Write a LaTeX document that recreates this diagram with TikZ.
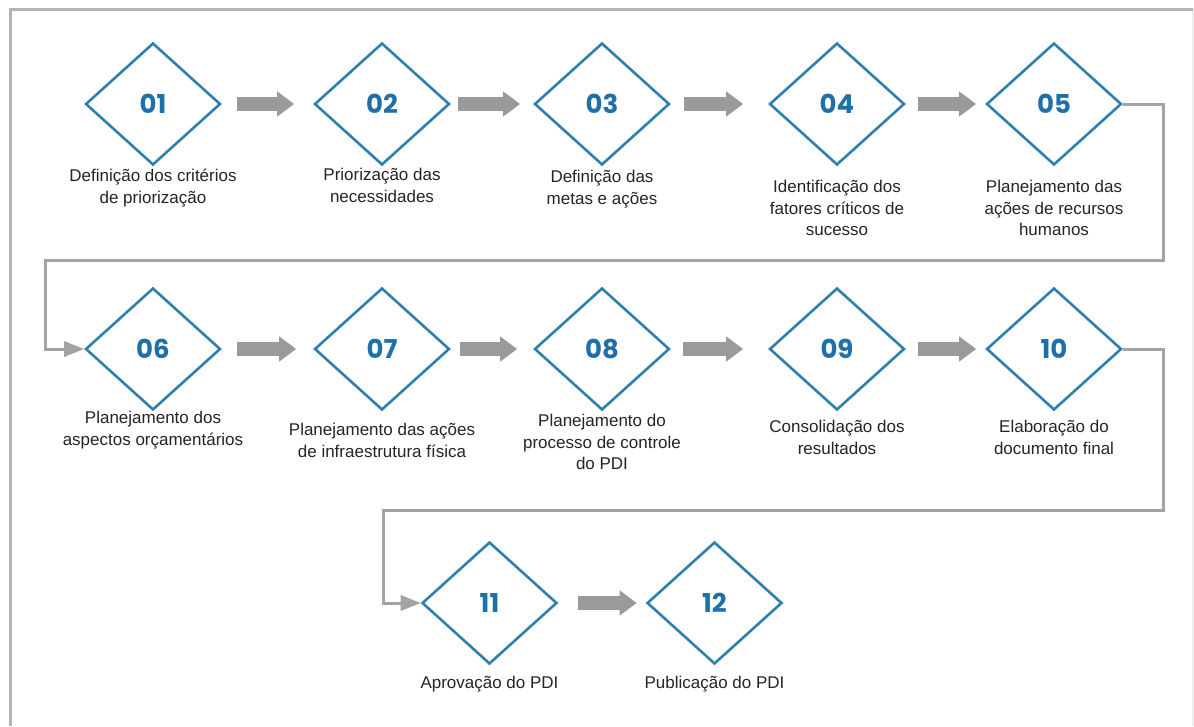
\documentclass[tikz,border=0pt]{standalone}
\usepackage{fontspec}
\setmainfont{Liberation Sans}
\newfontfamily\numfont{Poppins}
\usetikzlibrary{shapes.geometric,arrows.meta}
\definecolor{framegray}{HTML}{B4B4B4}
\definecolor{framefaint}{HTML}{EEEEEE}
\definecolor{flowgray}{HTML}{9A9A9A}
\definecolor{linkgray}{HTML}{A3A3A3}
\definecolor{stepblue}{HTML}{2F80AE}
\definecolor{numblue}{HTML}{1F70A8}
\definecolor{labeltext}{HTML}{252525}
\begin{document}
\begin{tikzpicture}[x=1pt,y=-1pt,
  stepdiamond/.style={diamond, draw=stepblue, line width=2.6pt,
    minimum width=135pt, minimum height=122pt, inner sep=0pt,
    font=\numfont\bfseries\fontsize{26}{26}\selectfont, text=numblue},
  steplabel/.style={anchor=north, align=center, inner sep=0pt,
    font=\fontsize{17}{21.5}\selectfont, text=labeltext},
  flowarrow/.style={draw=flowgray, line width=14pt,
    -{Triangle[length=17pt,width=24pt]}},
  linkarrow/.style={draw=linkgray, line width=3pt,
    -{Triangle[length=20pt,width=15pt]}}
]
\useasboundingbox[fill=white] (0,0) rectangle (1194,726);

% frame
\draw[framefaint, line width=1.5pt] (1193,9) -- (1193,726);
\draw[framegray, line width=3pt] (10,726) -- (10,9) -- (1193,9);

% row 1
\node[stepdiamond] (d1) at (153,104) {01};
\node[stepdiamond] (d2) at (382,104) {02};
\node[stepdiamond] (d3) at (602,104) {03};
\node[stepdiamond] (d4) at (837,104) {04};
\node[stepdiamond] (d5) at (1054,104) {05};
% row 2
\node[stepdiamond] (d6) at (153,349) {06};
\node[stepdiamond] (d7) at (382,349) {07};
\node[stepdiamond] (d8) at (602,349) {08};
\node[stepdiamond] (d9) at (837,349) {09};
\node[stepdiamond] (d10) at (1054,349) {10};
% row 3
\node[stepdiamond] (d11) at (489.5,603) {11};
\node[stepdiamond] (d12) at (714.5,603) {12};

% labels
\node[steplabel] (t1) at (153,169) {Definição dos critérios\\de priorização};
\node[steplabel] (t2) at (382,168) {Priorização das\\necessidades};
\node[steplabel] (t3) at (602,170) {Definição das\\metas e ações};
\node[steplabel] (t4) at (837,180) {Identificação dos\\fatores críticos de\\sucesso};
\node[steplabel] (t5) at (1054,180) {Planejamento das\\ações de recursos\\humanos};
\node[steplabel] (t6) at (153,411) {Planejamento dos\\aspectos orçamentários};
\node[steplabel] (t7) at (382,423) {Planejamento das ações\\de infraestrutura física};
\node[steplabel] (t8) at (602,414) {Planejamento do\\processo de controle\\do PDI};
\node[steplabel] (t9) at (837,420) {Consolidação dos\\resultados};
\node[steplabel] (t10) at (1054,420) {Elaboração do\\documento final};
\node[steplabel] (t11) at (489.5,676) {Aprovação do PDI};
\node[steplabel] (t12) at (714.5,676) {Publicação do PDI};

% block arrows between steps
\draw[flowarrow, shorten <=15pt, shorten >=19pt] (d1.east) -- (d2.west);
\draw[flowarrow, shorten <=7pt, shorten >=13pt] (d2.east) -- (d3.west);
\draw[flowarrow, shorten <=13pt, shorten >=25pt] (d3.east) -- (d4.west);
\draw[flowarrow, shorten <=12pt, shorten >=9pt] (d4.east) -- (d5.west);
\draw[flowarrow, shorten <=15pt, shorten >=17pt] (d6.east) -- (d7.west);
\draw[flowarrow, shorten <=9pt, shorten >=16pt] (d7.east) -- (d8.west);
\draw[flowarrow, shorten <=12pt, shorten >=25pt] (d8.east) -- (d9.west);
\draw[flowarrow, shorten <=12pt, shorten >=9pt] (d9.east) -- (d10.west);
\draw[flowarrow, shorten <=20pt, shorten >=9pt] (d11.east) -- (d12.west);

% row wrap connectors
\coordinate (w1r) at (1163,260);
\coordinate (w1l) at (45,260);
\coordinate (w2r) at (1163,510);
\coordinate (w2l) at (383,510);
\draw[linkarrow] (d5.east) -| (w1r) -- (w1l) |- (d6.west);
\draw[linkarrow] (d10.east) -| (w2r) -- (w2l) |- (d11.west);
\end{tikzpicture}
\end{document}
